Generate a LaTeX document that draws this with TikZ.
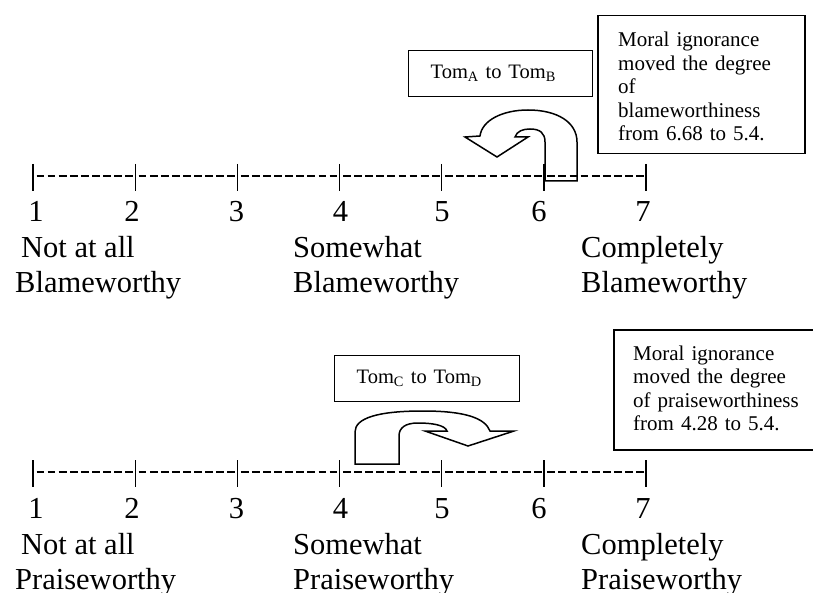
\documentclass[tikz,border=0pt]{standalone}
\usepackage{fontspec}
\setmainfont{Liberation Serif}
\usetikzlibrary{calc}
\begin{document}
\begin{tikzpicture}[x=1pt,y=-1pt,
  scaletick/.style={line width=1.3pt},
  dashseg/.style={line width=2pt, dash pattern=on 7.8pt off 3.3pt},
  biglbl/.style={font=\fontsize{30.5}{35}\selectfont, inner sep=0pt, anchor=base west},
  numlbl/.style={font=\fontsize{30.5}{35}\selectfont, inner sep=0pt, anchor=base},
  tombox/.style={draw, line width=1.4pt, font=\fontsize{20.5}{23}\selectfont, anchor=north west,
     align=left, inner xsep=22pt, inner ysep=0pt, minimum height=46pt},
  moralbox/.style={draw, line width=1.5pt, anchor=north west, inner sep=0pt},
  moraltext/.style={font=\fontsize{21}{23.5}\selectfont, inner sep=0pt, anchor=base west,
     text width=190pt, align=left},
  uarrow/.style={draw, line width=1.5pt, line join=miter}]
\useasboundingbox (0,0) rectangle (813,593);

% two rating scales
\foreach \yy/\word in {176/Blameworthy,472/Praiseworthy}{
  \foreach \i in {0,...,6}{
    \coordinate (t\i) at ({33+102.17*\i},\yy);
    \draw[scaletick] ($(t\i)+(0,-12)$) -- ($(t\i)+(0,15)$);
  }
  \foreach \i in {0,...,5}{
    \draw[dashseg] ({33+102.17*\i+3.5},\yy) -- ({33+102.17*(\i+1)-2},\yy);
  }
  \foreach \n/\xx in {1/36,2/132,3/236.5,4/340.5,5/442,6/539,7/643}{
    \node[numlbl] (n\n) at (\xx,\yy+46) {\n};
  }
  \node[biglbl] (l1a) at (21,\yy+82) {Not at all};
  \node[biglbl] (l1b) at (15,\yy+117) {\word};
  \node[biglbl] (l2a) at (293,\yy+82) {Somewhat};
  \node[biglbl] (l2b) at (293,\yy+117) {\word};
  \node[biglbl] (l3a) at (581,\yy+82) {Completely};
  \node[biglbl] (l3b) at (581,\yy+117) {\word};
}

% upper annotations
\node[tombox, text width=140pt] (tab) at (408,50) {Tom\textsubscript{A} to Tom\textsubscript{B}};
\node[moralbox, minimum width=207pt, minimum height=138pt] (m1) at (597,15) {};
\node[moraltext] (m1t) at (618,47) {Moral ignorance\\moved the degree\\of\\blameworthiness\\from 6.68 to 5.4.};
\draw[uarrow] (545,181) -- (545,142) .. controls (545,133) and (540,129) .. (530,129)
  .. controls (523,129) and (517,131) .. (515,137) -- (528,137) -- (497,157) -- (465,137)
  -- (480,136) .. controls (482,120) and (503,110) .. (528,110)
  .. controls (557,110) and (577,122) .. (577,142) -- (577,181) -- cycle;

% lower annotations
\node[tombox, text width=141pt] (tcd) at (334,355) {Tom\textsubscript{C} to Tom\textsubscript{D}};
\node[moralbox, minimum width=210pt, minimum height=120pt] (m2) at (613,329) {};
\node[moraltext] (m2t) at (633,360) {Moral ignorance\\moved the degree\\of praiseworthiness\\from 4.28 to 5.4.};
\draw[uarrow] (399,464) -- (399,436) .. controls (399,428) and (405,423) .. (418,423)
  .. controls (432,423) and (445,425) .. (447,431) -- (425,431) -- (468,446) -- (514,431)
  -- (490,431) .. controls (485,418) and (465,411) .. (423,411)
  .. controls (378,411) and (355,418) .. (355,432) -- (355,464) -- cycle;
\end{tikzpicture}
\end{document}
